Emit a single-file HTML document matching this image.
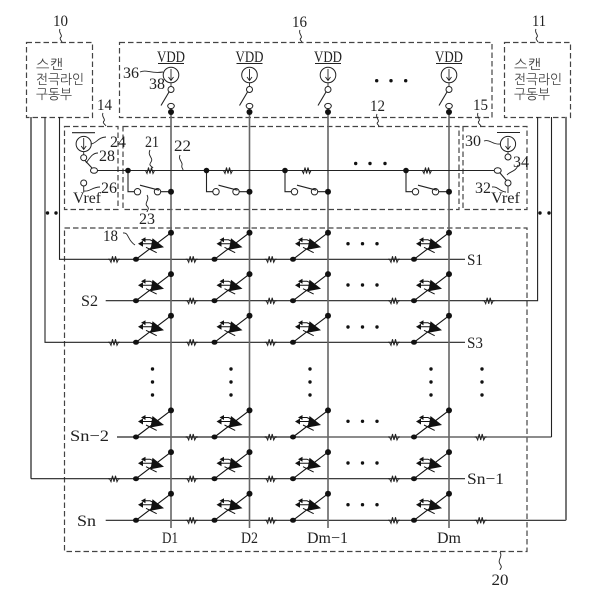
<!DOCTYPE html>
<html>
<head>
<meta charset="utf-8">
<style>
html,body{margin:0;padding:0;background:#fff;width:601px;height:601px;overflow:hidden}
svg{display:block}
text{font-family:"Liberation Serif",serif;font-size:16px;fill:#222}
.k{font-family:"NanumGothic","Noto Sans CJK KR",sans-serif;font-size:13.5px;fill:#444}
.b{fill:none;stroke:#444;stroke-width:1.2;stroke-dasharray:5.5 3}
.w{fill:none;stroke:#222;stroke-width:1.1}
.g{fill:none;stroke:#666;stroke-width:1.6}
.t{fill:none;stroke:#777;stroke-width:2}
.s{fill:none;stroke:#222;stroke-width:.9}
.o{fill:#fff;stroke:#222;stroke-width:1}
</style>
</head>
<body>
<svg width="601" height="601" viewBox="0 0 601 601" xmlns="http://www.w3.org/2000/svg">
<defs>
<g id="r"><path d="M-6 0H-4.5L-3 3 -1.5 -3 0 3 1.5 -3 3 3 4.5 0H6" fill="none" stroke="#222" stroke-width="1"/></g>
<g id="c">
<path d="M-35 0L0 -26.6" stroke="#111" stroke-width="1.1" fill="none"/>
<ellipse cx="-35" cy="0" rx="3" ry="2.5" fill="#111"/>
<circle cx="0" cy="-26.6" r="3" fill="#111"/>
<path d="M-18.5 -21L-7 -12 -20.5 -9.5Z" fill="#111"/>
<path d="M-25 -12L-14.3 -6.6" stroke="#111" stroke-width="1" fill="none"/>
<path d="M-29 -15.5H-19M-26 -19.5H-21L-18 -18" stroke="#111" stroke-width="1" fill="none"/>
<path d="M-33 -15.5L-28 -18.5V-12.5Z M-30 -19.5L-25.5 -22V-17Z" fill="#111"/>
</g>
<g id="v">
<text x="-14" y="0" textLength="28" lengthAdjust="spacingAndGlyphs">VDD</text>
<path d="M-13 1.5H13" stroke="#222" stroke-width="1"/>
<circle cx="0" cy="13" r="7.8" class="o"/>
<path d="M0 7V18M-2.5 15L0 18.5 2.5 15" class="s"/>
<path d="M0 21V24" class="s"/>
<circle cx="0" cy="27.5" r="3" class="o"/>
<path d="M-2 30L-10 43.5" class="w"/>
<ellipse cx="0" cy="44" rx="3.3" ry="2.6" class="o"/>
<circle cx="0" cy="50" r="3" fill="#111"/>
</g>
<g id="sw">
<path d="M-43 -21.2V0H-37" class="w"/>
<circle cx="-43" cy="-21.2" r="2.8" fill="#111"/>
<circle cx="-33.5" cy="0" r="3.2" class="o"/>
<circle cx="-13.5" cy="0" r="3.2" class="o"/>
<path d="M-10 0H0M-31 -6.5L-12 -1.5" class="w"/>
<circle cx="0" cy="0" r="3" fill="#111"/>
</g>
</defs>

<!-- boxes -->
<rect class="b" x="26.5" y="42.5" width="66" height="75"/>
<rect class="b" x="119.5" y="42.5" width="372.5" height="75"/>
<rect class="b" x="504.5" y="42.5" width="66" height="75"/>
<rect class="b" x="64.5" y="126.5" width="53.5" height="83"/>
<rect class="b" x="123" y="126.5" width="336" height="83"/>
<rect class="b" x="463" y="126.5" width="64" height="83"/>
<rect class="b" x="64.5" y="228" width="462.5" height="323.5"/>

<!-- Korean labels -->
<text class="k" x="36" y="69" textLength="27" lengthAdjust="spacingAndGlyphs">스캔</text>
<text class="k" x="36" y="84" textLength="48" lengthAdjust="spacingAndGlyphs">전극라인</text>
<text class="k" x="36" y="99" textLength="36" lengthAdjust="spacingAndGlyphs">구동부</text>
<text class="k" x="514" y="69" textLength="27" lengthAdjust="spacingAndGlyphs">스캔</text>
<text class="k" x="514" y="84" textLength="48" lengthAdjust="spacingAndGlyphs">전극라인</text>
<text class="k" x="514" y="99" textLength="36" lengthAdjust="spacingAndGlyphs">구동부</text>

<!-- scan wires -->
<path class="w" d="M59.5 117V259.3H465"/>
<path class="w" d="M45 117V342.3H465"/>
<path class="t" d="M31 117V478.7"/>
<path class="w" d="M31 478.7H465"/>
<path class="w" d="M105.7 300.7H537.6V117"/>
<path class="t" d="M117 437H300"/>
<path class="g" d="M300 437H551.5"/>
<path class="w" d="M551.5 437V117"/>
<path class="w" d="M105.7 520.3H566"/>
<path class="t" d="M566 520.3V117"/>

<!-- data lines -->
<path class="g" d="M171 112V528M249.5 112V528M328 112V528M449 112V528"/>

<!-- VDD sources -->
<use href="#v" x="171" y="62"/>
<use href="#v" x="249.5" y="62"/>
<use href="#v" x="328" y="62"/>
<use href="#v" x="449" y="62"/>
<g fill="#111"><circle cx="376.7" cy="80.7" r="1.7"/><circle cx="391" cy="80.7" r="1.7"/><circle cx="405.7" cy="80.7" r="1.7"/>
<circle cx="355.7" cy="163.5" r="1.7"/><circle cx="370" cy="163.5" r="1.7"/><circle cx="385" cy="163.5" r="1.7"/>
<circle cx="47.5" cy="213" r="1.7"/><circle cx="56" cy="213" r="1.7"/><circle cx="540" cy="213" r="1.7"/><circle cx="549" cy="213" r="1.7"/></g>

<!-- precharge line -->
<path class="w" d="M97.5 170.5H494"/>
<use href="#r" x="150" y="170.5"/><use href="#r" x="228" y="170.5"/><use href="#r" x="306.5" y="170.5"/><use href="#r" x="427" y="170.5"/>
<use href="#sw" x="171" y="191.7"/><use href="#sw" x="249.5" y="191.7"/><use href="#sw" x="328" y="191.7"/><use href="#sw" x="449" y="191.7"/>

<!-- block 14 -->
<path class="w" d="M72 132.7H95"/>
<circle cx="83.7" cy="144" r="7.6" class="o"/>
<path class="s" d="M83.7 138V149M81.2 146L83.7 149.5 86.2 146M83.7 151.5V155"/>
<circle cx="83.7" cy="157.7" r="3" class="o"/>
<path class="w" d="M85 160.5L92 168"/>
<ellipse cx="94" cy="170.5" rx="3.5" ry="2.8" class="o"/>
<circle cx="83.7" cy="183" r="3" class="o"/>
<path class="s" d="M83.7 186V192"/>
<text x="73" y="203" textLength="28" lengthAdjust="spacingAndGlyphs">Vref</text>
<path class="s" d="M90.7 144C96 144 98 137 106 137M86 163C90 158 92 153 98 153M84 191C90 192 92 187 100 187"/>
<text x="110" y="147" textLength="16" lengthAdjust="spacingAndGlyphs">24</text>
<text x="99" y="161" textLength="16" lengthAdjust="spacingAndGlyphs">28</text>
<text x="101" y="193" textLength="16" lengthAdjust="spacingAndGlyphs">26</text>

<!-- block 15 -->
<path class="w" d="M497 132.5H520"/>
<circle cx="508" cy="144" r="7.6" class="o"/>
<path class="s" d="M508 138V149M505.5 146L508 149.5 510.5 146M508 151.5V154"/>
<circle cx="508" cy="157" r="3" class="o"/>
<ellipse cx="497.7" cy="170.5" rx="3.5" ry="2.8" class="o"/>
<path class="w" d="M500 173L506.5 180.5"/>
<circle cx="508" cy="183" r="3" class="o"/>
<path class="s" d="M508 186V193"/>
<text x="491" y="203" textLength="29" lengthAdjust="spacingAndGlyphs">Vref</text>
<path class="s" d="M484 141C490 139 493 145 500 144M507 175C510 171 516 172 518 165M492 187C498 186 500 192 506 192"/>
<text x="465" y="146" textLength="16" lengthAdjust="spacingAndGlyphs">30</text>
<text x="513" y="167" textLength="16" lengthAdjust="spacingAndGlyphs">34</text>
<text x="475" y="193" textLength="16" lengthAdjust="spacingAndGlyphs">32</text>

<!-- pixel matrix -->
<use href="#c" x="171" y="259.3"/><use href="#c" x="249.5" y="259.3"/><use href="#c" x="328" y="259.3"/><use href="#c" x="449" y="259.3"/>
<use href="#c" x="171" y="300.7"/><use href="#c" x="249.5" y="300.7"/><use href="#c" x="328" y="300.7"/><use href="#c" x="449" y="300.7"/>
<use href="#c" x="171" y="342.3"/><use href="#c" x="249.5" y="342.3"/><use href="#c" x="328" y="342.3"/><use href="#c" x="449" y="342.3"/>
<use href="#c" x="171" y="437"/><use href="#c" x="249.5" y="437"/><use href="#c" x="328" y="437"/><use href="#c" x="449" y="437"/>
<use href="#c" x="171" y="478.7"/><use href="#c" x="249.5" y="478.7"/><use href="#c" x="328" y="478.7"/><use href="#c" x="449" y="478.7"/>
<use href="#c" x="171" y="520.3"/><use href="#c" x="249.5" y="520.3"/><use href="#c" x="328" y="520.3"/><use href="#c" x="449" y="520.3"/>

<!-- resistors -->
<use href="#r" x="114" y="259.3"/><use href="#r" x="191.7" y="259.3"/><use href="#r" x="270.7" y="259.3"/><use href="#r" x="394" y="259.3"/>
<use href="#r" x="191.7" y="300.7"/><use href="#r" x="270.7" y="300.7"/><use href="#r" x="394" y="300.7"/><use href="#r" x="488.7" y="300.7"/>
<use href="#r" x="114" y="342.3"/><use href="#r" x="191.7" y="342.3"/><use href="#r" x="270.7" y="342.3"/><use href="#r" x="394" y="342.3"/>
<use href="#r" x="191.7" y="437"/><use href="#r" x="270.7" y="437"/><use href="#r" x="394" y="437"/><use href="#r" x="480.7" y="437"/>
<use href="#r" x="114" y="478.7"/><use href="#r" x="191.7" y="478.7"/><use href="#r" x="270.7" y="478.7"/><use href="#r" x="394" y="478.7"/>
<use href="#r" x="191.7" y="520.3"/><use href="#r" x="270.7" y="520.3"/><use href="#r" x="394" y="520.3"/><use href="#r" x="480.7" y="520.3"/>

<!-- ellipsis dots -->
<g fill="#111">
<circle cx="348" cy="243.7" r="1.7"/><circle cx="362.5" cy="243.7" r="1.7"/><circle cx="377" cy="243.7" r="1.7"/>
<circle cx="348" cy="285" r="1.7"/><circle cx="362.5" cy="285" r="1.7"/><circle cx="377" cy="285" r="1.7"/>
<circle cx="348" cy="327" r="1.7"/><circle cx="362.5" cy="327" r="1.7"/><circle cx="377" cy="327" r="1.7"/>
<circle cx="348" cy="421.3" r="1.7"/><circle cx="362.5" cy="421.3" r="1.7"/><circle cx="377" cy="421.3" r="1.7"/>
<circle cx="348" cy="463" r="1.7"/><circle cx="362.5" cy="463" r="1.7"/><circle cx="377" cy="463" r="1.7"/>
<circle cx="348" cy="504.7" r="1.7"/><circle cx="362.5" cy="504.7" r="1.7"/><circle cx="377" cy="504.7" r="1.7"/>
<circle cx="152.5" cy="369" r="1.7"/><circle cx="152.5" cy="382" r="1.7"/><circle cx="152.5" cy="395" r="1.7"/>
<circle cx="231" cy="369" r="1.7"/><circle cx="231" cy="382" r="1.7"/><circle cx="231" cy="395" r="1.7"/>
<circle cx="310" cy="369" r="1.7"/><circle cx="310" cy="382" r="1.7"/><circle cx="310" cy="395" r="1.7"/>
<circle cx="431" cy="369" r="1.7"/><circle cx="431" cy="382" r="1.7"/><circle cx="431" cy="395" r="1.7"/>
<circle cx="482" cy="369" r="1.7"/><circle cx="482" cy="382" r="1.7"/><circle cx="482" cy="395" r="1.7"/>
</g>

<!-- reference squiggles -->
<path class="s" d="M60 29C58 33 63 35 61 37S61 40 62 42M536 29C534 33 539 35 537 37S537 40 538 42M300 30C298 34 303 36 301 38S301 40 302 42M103 113C101 117 106 119 104 121S105 124 106 126M377 114C375 118 380 120 378 122S378 124 379 126M478 113C476 117 481 119 479 121S480 124 481 126M150 150C147 156 154 158 151 162S152 166 153 168M180 155C178 160 183 162 182 165S183 168 183 170M147 195C150 200 144 203 147 206S147 210 147 212M123 233C129 232 127 240 135 245M140 72C147 69 150 74 163 72M500 552C503 557 497 560 500 564S500 568 500 570"/>

<!-- numeric labels -->
<text x="53" y="26" textLength="15" lengthAdjust="spacingAndGlyphs">10</text>
<text x="292" y="27" textLength="15" lengthAdjust="spacingAndGlyphs">16</text>
<text x="532" y="26" textLength="14" lengthAdjust="spacingAndGlyphs">11</text>
<text x="97" y="110" textLength="15" lengthAdjust="spacingAndGlyphs">14</text>
<text x="370" y="111" textLength="15" lengthAdjust="spacingAndGlyphs">12</text>
<text x="473" y="110" textLength="15" lengthAdjust="spacingAndGlyphs">15</text>
<text x="145" y="147" textLength="14" lengthAdjust="spacingAndGlyphs">21</text>
<text x="174" y="151" textLength="17" lengthAdjust="spacingAndGlyphs">22</text>
<text x="139" y="224" textLength="16" lengthAdjust="spacingAndGlyphs">23</text>
<text x="103" y="241" textLength="15" lengthAdjust="spacingAndGlyphs">18</text>
<text x="123" y="78" textLength="16" lengthAdjust="spacingAndGlyphs">36</text>
<text x="149" y="89" textLength="16" lengthAdjust="spacingAndGlyphs">38</text>
<text x="491.5" y="585" textLength="17" lengthAdjust="spacingAndGlyphs">20</text>

<!-- line labels -->
<text x="81" y="306" textLength="17" lengthAdjust="spacingAndGlyphs">S2</text>
<text x="70" y="441" textLength="39" lengthAdjust="spacingAndGlyphs">Sn−2</text>
<text x="77" y="526" textLength="19" lengthAdjust="spacingAndGlyphs">Sn</text>
<text x="467" y="265" textLength="16" lengthAdjust="spacingAndGlyphs">S1</text>
<text x="467" y="348" textLength="16" lengthAdjust="spacingAndGlyphs">S3</text>
<text x="467" y="484" textLength="37" lengthAdjust="spacingAndGlyphs">Sn−1</text>
<text x="162" y="543" textLength="16" lengthAdjust="spacingAndGlyphs">D1</text>
<text x="241" y="543" textLength="17" lengthAdjust="spacingAndGlyphs">D2</text>
<text x="307" y="543" textLength="41" lengthAdjust="spacingAndGlyphs">Dm−1</text>
<text x="437" y="543" textLength="24" lengthAdjust="spacingAndGlyphs">Dm</text>
</svg>
</body>
</html>
